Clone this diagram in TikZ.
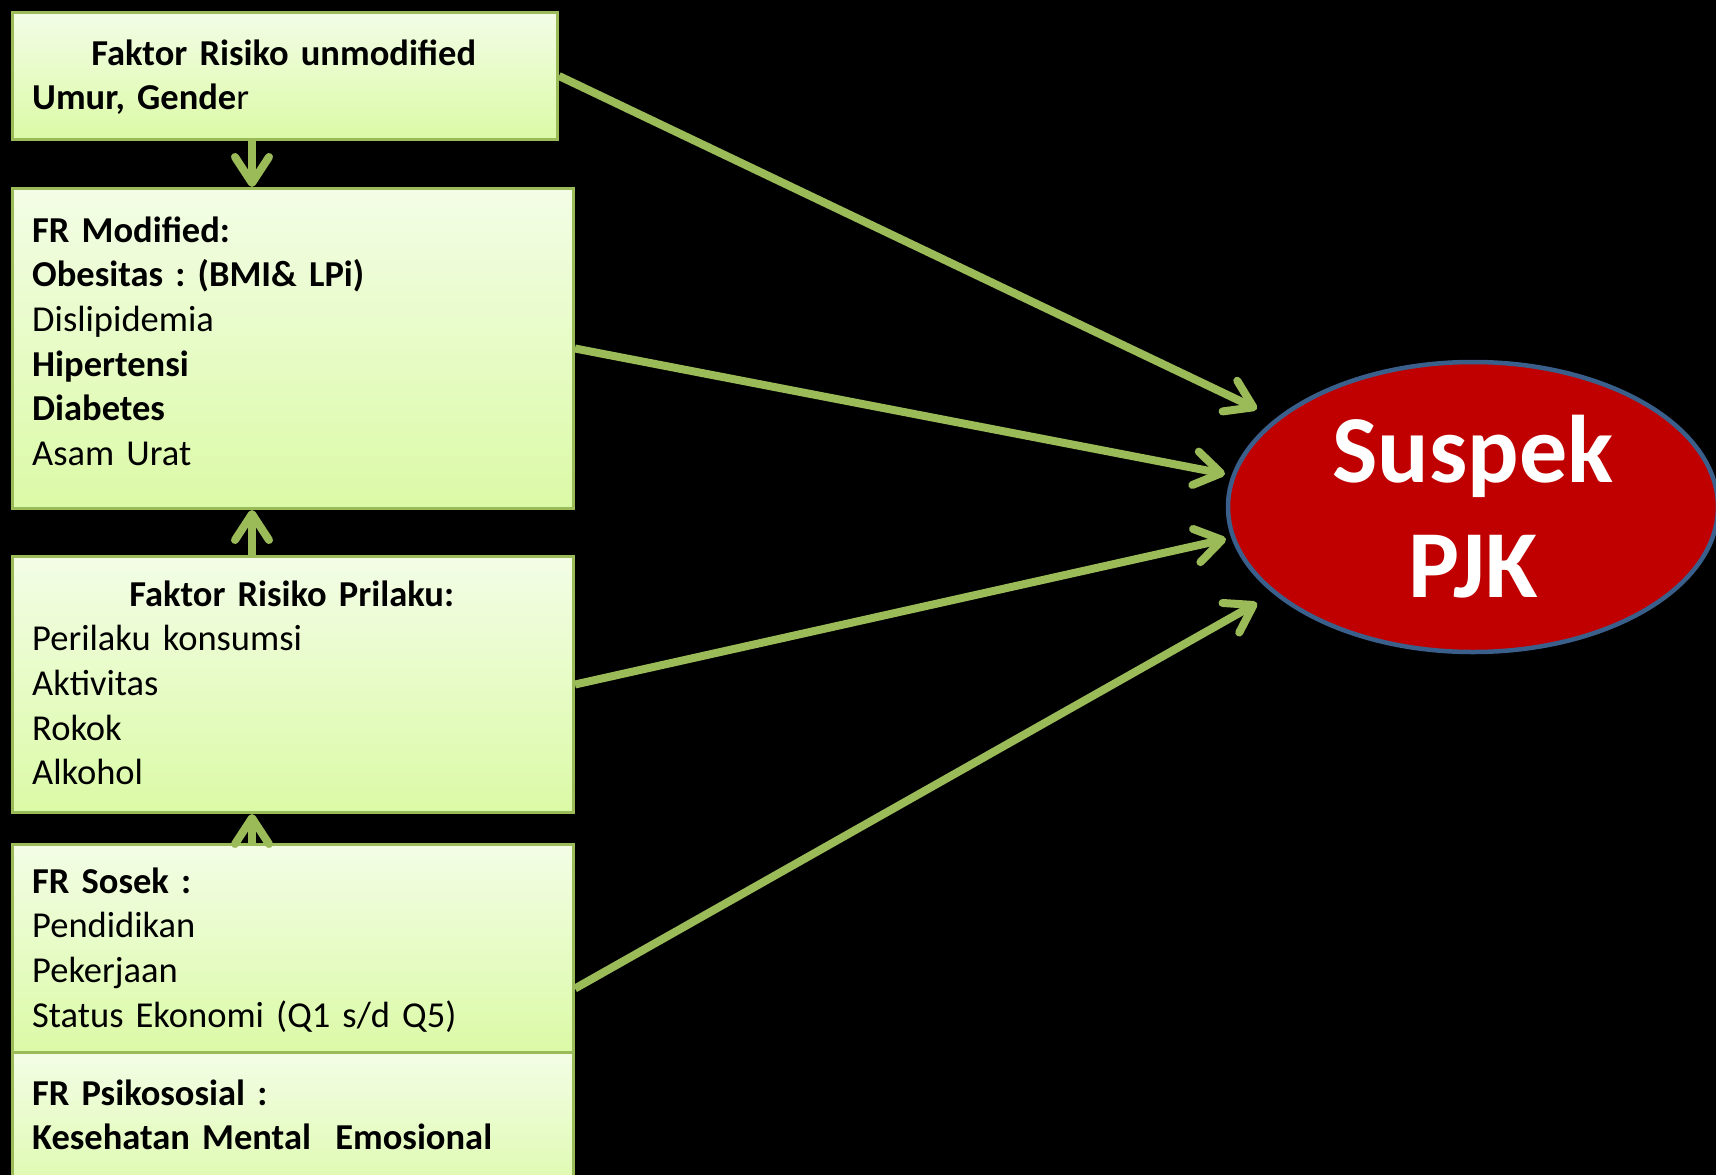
\documentclass[tikz,border=0pt]{standalone}
\usepackage{fontspec}
\setmainfont{Carlito}
\usetikzlibrary{arrows.meta,shapes.geometric}
\definecolor{arrgreen}{RGB}{155,187,89}
\definecolor{boxtop}{RGB}{243,253,230}
\definecolor{boxbot}{RGB}{219,250,166}
\definecolor{pjkred}{RGB}{192,0,0}
\definecolor{pjkblue}{RGB}{58,95,139}
\frenchspacing
\tikzset{
  frbox/.style={rectangle, anchor=north west, inner sep=0pt, draw=arrgreen, line width=3pt,
    top color=boxtop, bottom color=boxbot},
  frtext/.style={anchor=base west, inner sep=0pt, align=left,
    font={\fontsize{36.5}{44.7}\selectfont\frenchspacing\spaceskip=6.8pt\relax}},
  arr/.style={draw=arrgreen, line width=8pt,
    -{Straight Barb[length=26pt,width=34pt,round]}},
}
\begin{document}
\begin{tikzpicture}[x=1pt,y=-1pt]
\fill[black] (0,0) rectangle (1716,1175);
\useasboundingbox (0,0) rectangle (1716,1175);
\clip (0,0) rectangle (1716,1175);

% boxes
\node[frbox, minimum width=545pt, minimum height=127pt] (b1) at (11,11) {};
\node[frbox, minimum width=561pt, minimum height=320pt] (b2) at (11,187) {};
\node[frbox, minimum width=561pt, minimum height=256pt] (b3) at (11,555) {};
\node[frbox, minimum width=561pt, minimum height=208pt] (b4) at (11,843) {};
\node[frbox, minimum width=561pt, minimum height=160pt] (b5) at (11,1051) {};

% texts
\node[frtext, text width=503pt] (tx1) at (32,65)
  {\makebox[\linewidth]{\bfseries Faktor Risiko unmodified}\\
   \textbf{Umur, Gende}r};
\node[frtext, text width=530pt] (tx2) at (32,242)
  {\textbf{FR Modified:}\\
   \textbf{Obesitas : (BMI\& LPi)}\\
   Dislipidemia\\
   \textbf{Hipertensi}\\
   \textbf{Diabetes}\\
   Asam Urat};
\node[frtext, text width=519pt] (tx3) at (32,606)
  {\makebox[\linewidth]{\bfseries Faktor Risiko Prilaku:}\\
   Perilaku konsumsi\\
   Aktivitas\\
   Rokok\\
   Alkohol};
\node[frtext, text width=530pt] (tx4) at (32,893)
  {\textbf{FR Sosek :}\\
   Pendidikan\\
   Pekerjaan\\
   Status Ekonomi (Q1 s/d Q5)};
\node[frtext, text width=530pt] (tx5) at (32,1105)
  {\textbf{FR Psikososial :}\\
   \textbf{Kesehatan Mental\ \ Emosional}};

% target
\node[ellipse, minimum width=490pt, minimum height=290pt, fill=pjkred, draw=pjkblue,
  line width=4.5pt, text=white, align=center, inner sep=0pt,
  font={\bfseries\fontsize{96}{115}\selectfont}] (pjk) at (1473,507) {Suspek\\PJK};

% arrow ends
\coordinate (vx) at (252,0);
\coordinate (e1) at (1257,409);
\coordinate (e2) at (1225,474);
\coordinate (e3) at (1226,539);
\coordinate (e4) at (1257,603);

% vertical arrows
\draw[arr] (b1.south -| vx) -- (b2.north -| vx);
\draw[arr] (b3.north -| vx) -- (b2.south -| vx);
\draw[arr] (b4.north -| vx) -- (b3.south -| vx);

% arrows to the ellipse
\draw[arr] (b1.east) -- (e1);
\draw[arr] (b2.east) -- (e2);
\draw[arr] (b3.east) -- (e3);
\draw[arr] ([yshift=-40pt]b4.east) -- (e4);
\end{tikzpicture}
\end{document}
